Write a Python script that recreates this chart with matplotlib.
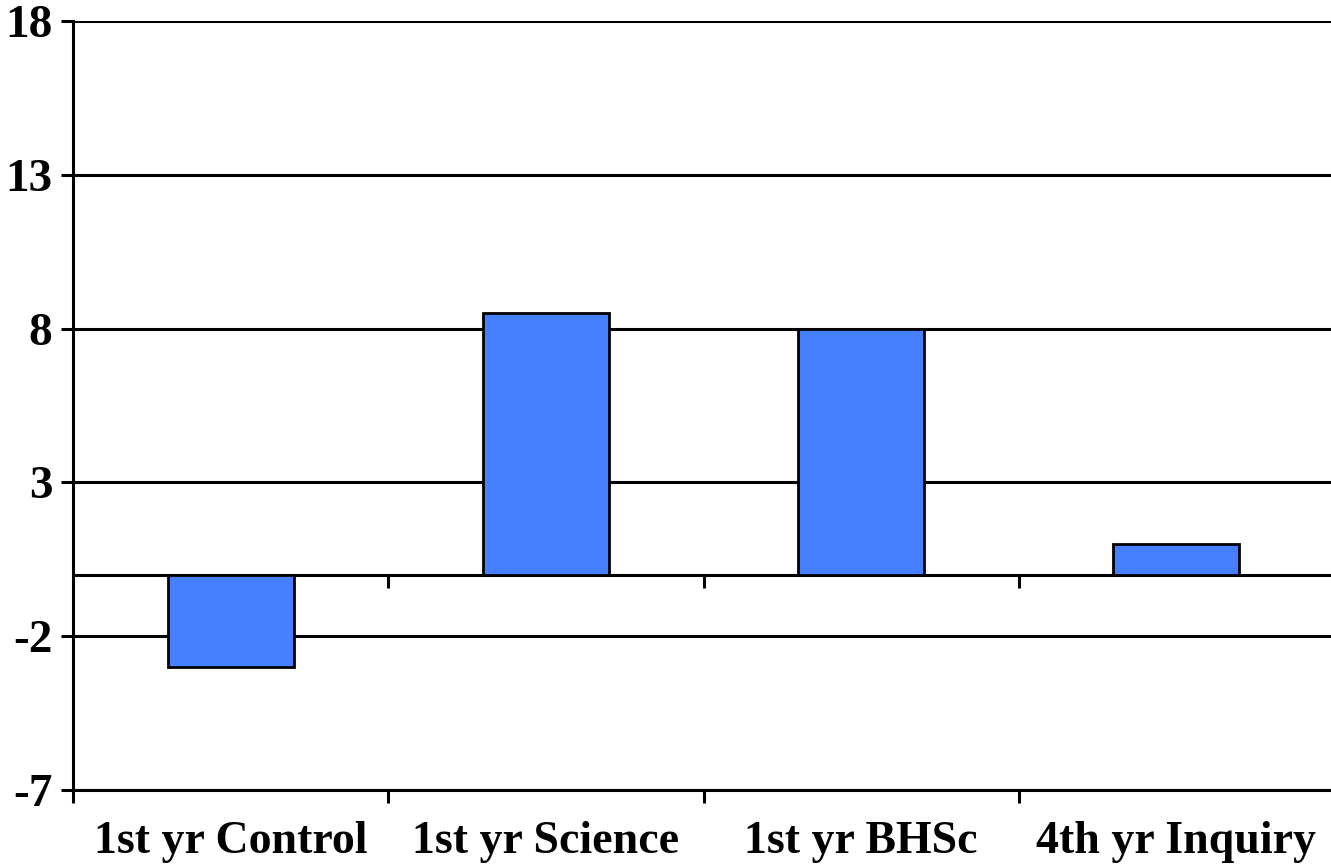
import matplotlib.pyplot as plt

# chart data
categories = ["1st yr Control", "1st yr Science", "1st yr BHSc", "4th yr Inquiry"]
values = [-3.0, 8.5, 8.0, 1.0]
y_ticks = [-7, -2, 3, 8, 13, 18]


def main():
    plt.rcParams['font.family'] = ['Liberation Serif', 'DejaVu Serif']
    plt.rcParams['font.weight'] = 'bold'

    fig = plt.figure(figsize=(13.31, 8.67), dpi=100)
    ax = fig.add_axes([73 / 1331, 1 - 790 / 867, 1261 / 1331, 769 / 867])

    n = len(categories)
    centers = [i + 0.5 for i in range(n)]
    ax.bar(centers, values, width=0.4, color='#4480ff', edgecolor='black',
           linewidth=2.0, zorder=3)

    ax.set_xlim(0, n)
    ax.set_ylim(y_ticks[0], y_ticks[-1])
    ax.set_yticks(y_ticks)
    ax.set_yticklabels([str(t) for t in y_ticks])
    ax.grid(axis='y', color='black', linewidth=2.2, zorder=1)

    # category axis at the bottom: boundary ticks + centered labels
    ax.set_xticks(range(n + 1))
    ax.set_xticklabels([])
    ax.set_xticks(centers, minor=True)
    ax.set_xticklabels(categories, minor=True)
    ax.tick_params(axis='x', which='major', length=9, width=2.2, direction='out')
    ax.tick_params(axis='x', which='minor', length=0, pad=22, labelsize=33)
    ax.tick_params(axis='y', length=9, width=2.2, pad=6, labelsize=34)

    for s in ('top', 'right'):
        ax.spines[s].set_visible(False)
    for s in ('left', 'bottom'):
        ax.spines[s].set_linewidth(2.2)

    # zero line with category ticks
    zero_ax = ax.secondary_xaxis(0, transform=ax.transData)
    zero_ax.set_xticks(range(1, n))
    zero_ax.set_xticklabels([])
    zero_ax.tick_params(length=9, width=2.2, direction='out')
    zero_ax.spines['bottom'].set_linewidth(2.2)

    plt.savefig('out.png', dpi=100)


if __name__ == "__main__":
    main()
